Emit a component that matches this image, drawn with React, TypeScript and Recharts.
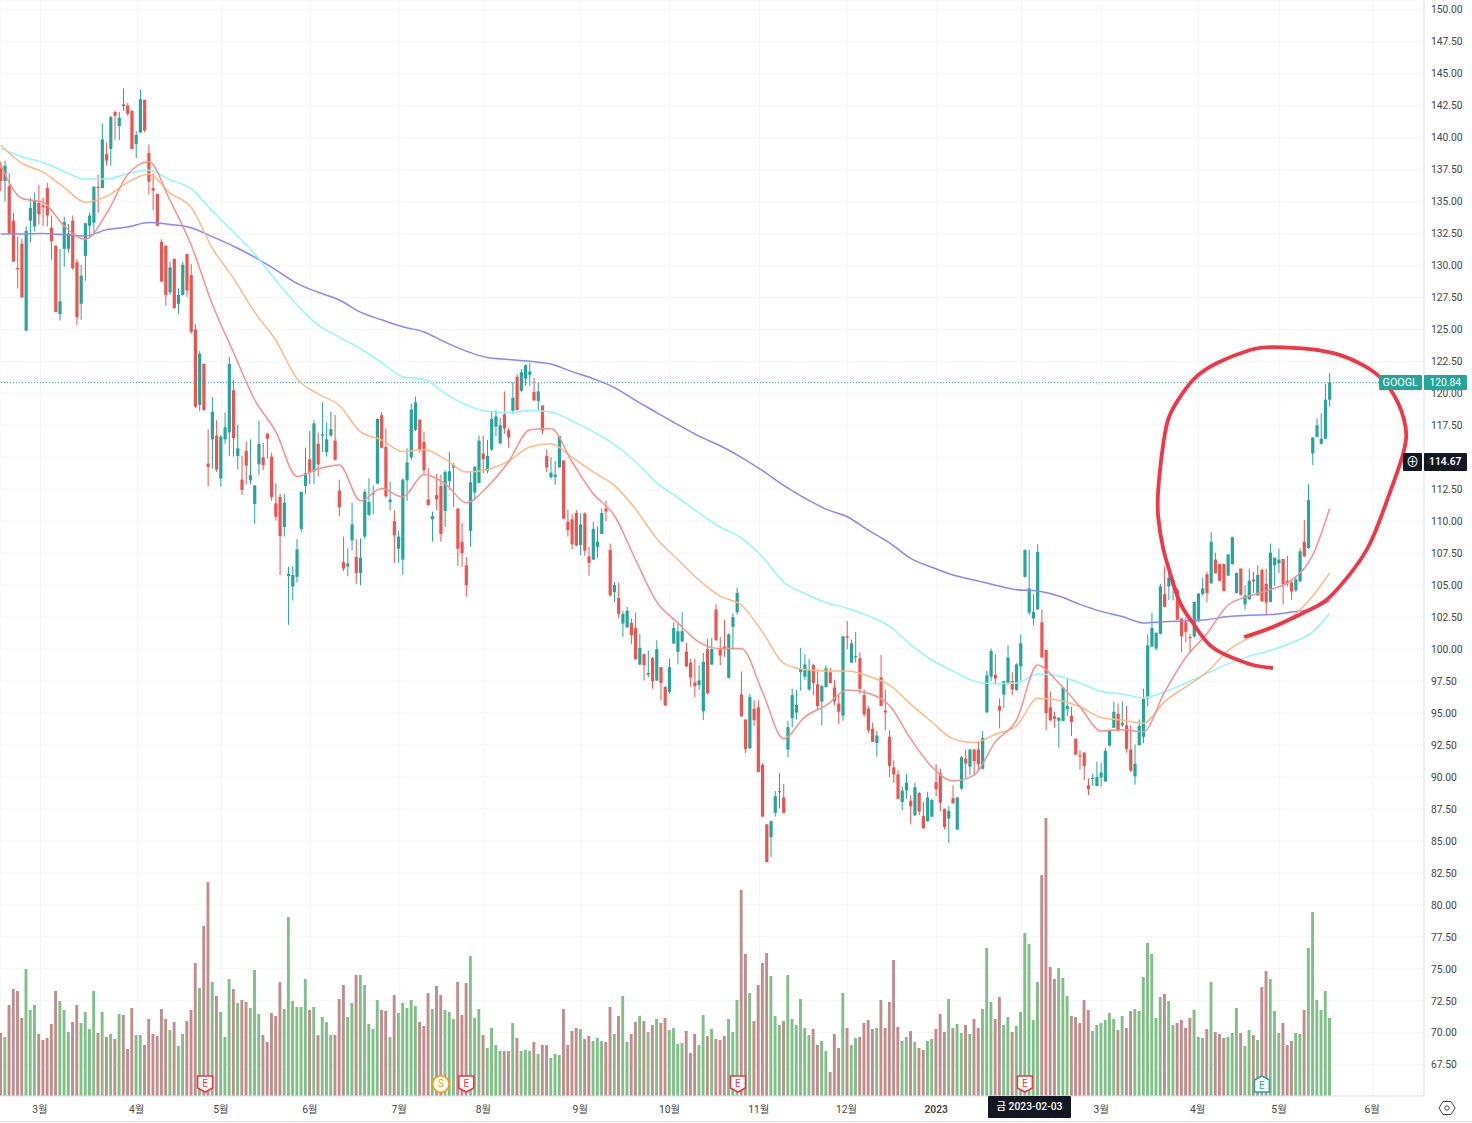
import React from "react";
import {
  ComposedChart, Bar, Line, Scatter, XAxis, YAxis, CartesianGrid, ReferenceLine, ReferenceDot,
} from "recharts";

const opens = [
137.6,136.6,136.2,133.5,129.8,131.7,124.9,133.5,133.05,134.9,
134.7,136.05,132.95,131.55,126.2,131.3,131.3,133.5,130.25,127,
130.75,133.1,133.35,136.15,136.05,138.7,139.1,142,140.9,142.6,
142.5,142.1,139.5,140.4,142.95,138.8,136.05,135.6,131.85,131.55,
127.9,130.5,127,127.7,130.9,129.25,125,119.1,122.3,114.5,
116.4,116.7,113.35,116.4,116.95,120.25,115.1,113.25,115.5,113.2,
111.35,114.45,115,116.85,115.05,111.4,111.9,109.55,105.7,104.9,
105.65,109.4,112.75,114.85,113.9,116.05,116.7,115.4,116.7,116.3,
112.4,106.8,106.45,108.5,107.2,105.95,108.8,110.5,112.1,112.95,
118.3,115.8,111.5,110,107.85,107,113.2,115,117.15,117.95,
116.2,111.7,110.15,112.05,112.75,110.8,113.15,114.2,111,108.4,
106.55,109.25,112.25,113,115.3,113.95,115.6,117.4,116.1,118.35,
117.1,118.65,121.3,120.2,121.15,121.45,120.1,119.4,119.05,115.1,
113.45,113.45,114.2,114.75,109.95,110.15,110.65,108.15,110.6,107.25,
107,108,109,111,107.75,104.45,104,102,101.7,102.05,
101.65,98.8,99.6,98,99.3,97.55,98.6,97.05,96.65,100.45,
99.8,100.6,99.8,98.95,97.4,97.2,95.15,100,98.8,103.1,
100,100.2,97.75,101.75,102.9,96.45,94.5,92.25,95.35,95.45,
90.95,86.3,85.3,87.2,88.8,88.4,92.15,94.6,95.05,98.2,
97.85,96.85,98.75,97.25,95.9,97.05,98.2,97,95.75,94.8,
101,98.95,99.35,99.3,96.4,95.35,93.75,92.65,97.8,95.2,
93.15,90.75,90.2,88.05,88.95,88.15,87,88.75,86.95,86.55,
86.9,89.6,90.3,87.5,86.75,88.35,85.9,89.1,91.45,90.8,
92.15,92.15,90.65,95.05,97.85,98,95.55,96.45,97.25,97.5,
96.8,98.65,105.65,102.85,102.4,103.1,102.1,99.95,95.45,94.75,
94.4,94.4,95.3,94.8,93,91.7,91.9,89.35,89.85,89.3,
89.95,89.65,92.45,93.85,94.95,94.05,94.05,92.15,90.05,92.5,
93.15,96.15,100.2,100.05,101.2,104.3,104.9,104.95,104.65,102.4,
102.1,100.95,101,102.3,104.3,105.85,105.15,107,106.65,106.65,
105.75,106.65,104.4,106.3,103.5,103.9,105.45,104.2,106.2,105.1,
103.7,106.55,106.7,107.05,105.35,105.2,104.6,105.3,108.4,107.9,
115.3,116.6,116.05,116.45,119.5,
];
const closes = [
136.6,137.8,132.5,130.3,129.7,127.5,132.7,134.5,135.1,134,
134.55,133.9,131.9,126.35,127.2,133.4,132.5,129.8,125.95,129.2,
133.3,133.9,136.15,136.05,139.85,138.2,141.6,141.7,141.55,142.45,
141.85,139.1,140.2,143,140.55,136.55,135.85,133.1,128.75,127.7,
129.85,126.65,127.7,130.05,128.05,124.8,118.95,123.1,118.7,114.25,
118.55,114.05,116.6,117.35,122.3,116.5,115.7,112.45,114.35,113.6,
112.8,116.05,114.4,116.45,111.9,110.35,108.85,111.45,105.9,105.8,
107.8,112.3,113.75,113.85,117.65,114.45,116.8,116.4,117.2,114.8,
111.1,106.3,106.7,109.75,105.95,107.15,112.3,111.5,112.2,118,
115.75,111.95,111.7,108.9,108.8,113.25,114.6,118.75,119.3,115.55,
114,111.25,110.4,111.7,109,113.85,113.9,114.4,107.85,107.5,
105,113.05,114.25,116.3,114.85,115.1,118,118.2,117.5,117.25,
116.55,119.65,118.7,121.65,122.2,121.7,119.45,120.15,117.1,114.2,
113.8,113.65,116.65,110.2,109.3,108.2,108.1,109.75,107.7,106.75,
109.4,108.4,110.65,110.75,104.2,105,102.75,102.75,103,101.1,
99.2,100.1,98.75,98.15,97.5,100,97.35,95.6,98.6,101.65,
101.4,101.4,98.65,97.8,97.1,97.55,99,96.55,100,100.7,
99.5,100,101.15,102.5,104.4,94.75,92.2,96.25,94.45,90.4,
86.9,83.35,86.55,88.5,88.9,87.2,93.9,96.4,95.65,98.45,
98.8,98.35,97.35,95.55,97.1,98.5,97.35,95.9,95.1,101,
100.9,100.45,99.45,96.9,94.9,93.65,92.75,93.25,95.55,95.05,
90.85,90.2,88.3,88.95,89.55,87.7,89.2,87.3,86,88.4,
88.2,89.05,88,86.1,87.35,87.95,88.4,91.55,91.05,92.15,
91.25,91,93.05,97.95,99.85,97.7,95.2,97.5,99.35,96.85,
98.8,100.45,107.75,104.75,102.9,107.6,99.35,95,94.45,94.55,
94.65,97,95.55,94.3,91.75,91.6,90.85,89.05,89.95,90,
90.35,92.05,93.65,95.1,93.65,94.25,92.2,90.5,91.05,94,
96.1,100.3,101.65,101.25,104.9,103.3,105.6,105.4,102.3,101,
101.35,100.85,103.7,104.35,104.75,104.4,108.4,105.95,105.35,104.55,
107.4,108.75,105.95,104.25,104.2,105.35,105.3,105.8,103.75,103.65,
107.55,107.15,107,105.1,105.15,104.5,105.45,107.65,107.25,111.65,
116.55,117.5,116.45,119.5,120.84,
];
const highs = [
138.1,138.2,137.2,134.1,132.25,132.1,133.05,135.3,135.7,136.3,
135.3,136.45,133.9,131.55,131.3,133.8,133.25,133.9,130.5,130.05,
133.3,134.15,136.2,137.1,141.1,139.6,141.7,142.1,142,143.85,
142.7,142.1,140.5,143.75,142.95,139.45,137.2,135.6,132.05,131.55,
130.3,130.55,128.2,130.3,130.9,130.1,125.4,123.3,122.35,117.2,
119.7,117.9,116.75,118.5,122.85,121.05,117.55,115.1,116.2,116.4,
112.8,117.85,116.15,116.85,115.35,112.95,112.15,112.1,106.45,106.5,
108.6,112.3,115.75,117.05,117.9,116.95,119.3,117.7,118.55,118.3,
113.25,108.8,107.9,111.45,108.6,108.65,112.5,113.35,112.8,118.05,
118.55,117.25,113.1,110.85,109.25,113.35,115.7,119.2,119.75,117.95,
117,114.15,110.75,113.7,113.65,114,115.4,114.55,111,109.85,
107.2,113.85,114.3,116.7,116.7,116.35,118.6,118.7,118.1,120.15,
117.3,120.9,121.5,121.9,122.25,122.4,121.2,120.85,119.05,115.6,
115,114.7,116.65,114.75,110.9,110.55,110.9,110.6,110.7,108,
109.95,109.6,111,111.6,108.25,105.25,105.2,103,103.3,102.4,
102.85,101.2,99.65,99.9,99.4,100.7,98.6,97.1,99.25,102.1,
102,102.9,100.5,99.25,99.25,98.75,99.7,100.8,100.9,103.5,
100.95,102.3,101.25,102.8,104.8,98.25,94.5,96.5,96,96,
91.1,86.3,86.6,88.9,90.3,89.45,94.4,96.9,96.8,100.1,
99.6,99.25,98.85,98.4,97.2,98.75,98.55,97.6,96.4,101,
102.2,100.75,101.35,99.75,96.85,95.55,94.25,93.6,99.55,96.85,
93.65,91.3,90.55,89.25,90.25,88.6,89.55,88.85,88.05,88.85,
88.3,91,90.65,87.55,87.7,89.35,88.45,91.65,92.15,92.2,
92.2,92.75,93.6,98.3,100.05,99.6,96.15,97.5,100.3,98.2,
98.9,101.15,107.8,107.75,104.3,108.2,103.1,99.95,96.7,95.1,
94.65,97.05,97.75,95.5,93,92.1,91.95,89.9,90.25,91.2,
91.1,92.3,93.7,95.9,95.75,95.9,95.55,94.05,92.55,94.5,
96.9,101.15,102.85,101.35,105.1,106.45,106.7,105.45,104.75,102.4,
102.5,101.2,103.7,104.35,105.6,106.05,109.15,107.55,106.7,106.7,
107.45,108.8,106,106.3,105,106.3,106.05,106.55,106.3,106.3,
108.25,107.15,107.85,107.05,107.3,105.4,105.7,107.9,110.1,112.9,
116.55,118.05,118.45,120.75,121.6,
];
const lows = [
135.8,135,132.5,130.3,128.2,127.5,124.9,131.8,132.65,133.2,
133.1,133.05,130.45,126.35,125.7,129.9,131,129.65,125.35,125.75,
128.8,132.25,132.5,134.1,136.05,137.8,137.8,139.8,139.8,142.1,
141.7,139.1,138.4,140.35,140.4,135.55,134.3,133.05,128.7,126.85,
127.7,126.65,126.2,127.65,127.55,124.65,118.85,118.6,118.6,112.75,
114.1,113.85,112.7,116.05,115.1,115.05,114.05,112.05,112.9,112.9,
109.8,113.6,114,114.9,111.6,110.05,105.8,108.8,101.9,103.8,
105.25,109.15,112.1,112.9,112.9,113.5,115.4,115.05,116.6,114.75,
110.4,106.1,105.7,107.7,105.1,105,108.6,110.4,110.55,112.9,
115.7,111.85,110.85,106.75,106.75,105.8,111.6,114.8,117.05,115.35,
113.7,111.25,108.4,110.85,108.4,109.55,112.45,111.1,106.5,106.45,
104.1,108,111.65,112.95,113.75,113.75,115.5,116.65,116,116.85,
115.75,118.4,118.65,120.1,120.6,120.6,119.4,118.7,116.8,113.85,
113.3,112.85,114.2,110.2,108.8,107.8,108.05,107.35,107.3,105.75,
106.95,107.15,109,110,104.1,103.65,102.4,100.95,101.65,100.4,
99.2,98.75,97.55,97.8,96.9,97.5,96,95.55,96.5,100.4,
98.8,100.55,98.6,97.05,96.25,96.8,94.45,96.45,98.75,100.65,
98.75,99.4,97.7,99.95,102.7,94.7,91.85,92.2,94,90.4,
86.9,83.35,83.75,86.9,87.55,87.2,91.55,93.9,94.5,96.75,
97.6,96.75,96.4,95.3,94.05,97,97.3,95.6,94.15,94.4,
100,98.9,98.95,96.5,94.7,93.45,92.75,91.6,95.55,93.65,
90,89.55,88.25,87.4,88.3,86.3,86.95,87,85.95,86.5,
86.85,88.5,87.3,85.9,84.85,87.9,85.85,89,89.95,90.15,
90.1,90.6,90.6,95.05,97.5,97.25,93.8,95.4,97.25,96.4,
96.75,97.55,105.6,102.65,101.85,103.1,99.35,93.65,94.35,93.85,
92.3,94.35,94.75,93.2,91.7,90.6,89.75,88.6,89.3,89.3,
89.25,89.65,92.4,93.85,93.6,93.9,91.9,90.4,89.4,92.45,
92.65,95.55,100.15,99.9,101.15,103.25,103.85,103.8,102.3,99.75,
100.55,99.75,100.9,102.1,104.2,103.65,105.1,105.9,105.3,104.5,
105.7,106.6,104.35,104.2,103.1,103.85,104.4,104.15,103.7,102.65,
103.65,104.95,105.95,103.5,104.9,103.85,104.45,105.25,107.2,107.85,
114.4,116.55,116,116.4,118.95,
];
const volumes = [
63,59,91,107,105,78,127,86,91,62,
56,58,72,105,95,86,64,74,91,73,
84,67,105,63,84,59,62,57,82,81,
47,88,61,61,51,77,62,60,87,77,
66,74,50,62,75,86,133,108,170,214,
114,100,84,59,117,107,93,96,94,88,
126,82,61,54,83,80,114,87,179,95,
89,89,117,86,89,61,79,74,61,61,
97,111,79,93,121,121,111,72,67,96,
86,85,59,101,83,93,88,96,90,74,
70,103,87,110,101,86,84,77,114,81,
113,140,78,87,61,48,68,51,45,45,
45,73,58,45,46,45,54,42,51,51,
38,42,41,87,51,65,68,67,57,60,
55,58,55,54,89,62,80,100,54,62,
74,80,75,64,71,77,73,78,66,68,
52,53,65,43,62,51,81,60,67,57,
56,60,77,64,96,206,142,103,75,111,
133,143,120,80,71,75,121,77,71,97,
68,61,67,51,55,45,24,62,48,103,
68,51,58,59,73,76,67,68,96,68,
94,136,69,55,59,65,54,48,46,55,
57,67,82,64,97,68,72,63,71,62,
77,68,87,148,94,77,99,71,79,64,
70,84,163,152,76,114,221,278,129,117,
128,118,100,80,79,73,96,86,65,71,
73,76,83,77,66,80,68,85,87,85,
119,153,142,78,99,102,95,71,73,76,
68,78,86,59,58,67,114,64,62,58,
59,63,88,63,50,66,61,56,109,125,
117,85,63,73,51,55,63,62,86,148,
184,96,86,105,78,
];

// Moving averages at every 5th session, plus the last session.
const maRed = [137.86,135.25,134.94,133.09,132.05,134.05,137.1,138.1,135.1,131.6,126.97,123.2,119.5,117,113.5,114.1,114.4,111.6,112.55,111.9,113.65,112.95,111.45,112.7,114.65,117.15,117.25,114.65,112.15,110.45,107,103.7,102.05,100.55,100.05,100.05,96.65,93,94.7,95.6,96.8,96.55,95.6,93,90.8,89.7,90.15,92.75,94.45,98.75,97.35,95.5,93.6,93.7,93.55,96.65,99.35,101.2,103.45,104.15,104.65,105.4,107.35,111];
const maOrange = [139.4,138,137.3,136.1,134.95,135.4,136.5,137.15,135.65,134.55,131.35,129,126.35,124.15,121.15,119.95,119.05,117,116.35,115.45,115.6,114.85,113.85,114.05,114.7,115.8,116.05,115,113.85,112.8,110.95,108.65,107,105.4,104.15,103.45,101.35,98.9,98.4,98.3,98.3,97.9,97.2,95.7,94.3,93,92.7,93.35,94,96.15,96,95.5,94.65,94.45,94.2,95.9,97.05,98.2,99.9,100.9,101.75,102.5,104.15,105.95];
const maCyan = [139.15,138.5,138.05,137.35,136.75,136.75,137.2,137.45,136.7,136,134.25,132.6,130.9,128.85,126.9,125.35,124.4,123.5,122.4,121.3,121.1,120,119.1,118.6,118.5,118.65,118.55,117.85,117,116,114.65,113,111.85,110.65,109.55,108.7,107.2,105.25,104.35,103.65,103.2,102.6,101.8,100.35,99.15,98.3,97.5,97.3,97.35,98.05,97.9,97.35,96.7,96.5,96.2,96.65,97.35,98.1,98.85,99.45,99.9,100.5,101.35,102.8];
const maBlue = [132.45,132.45,132.5,132.4,132.3,132.8,133,133.35,133.2,132.95,132.25,131.5,130.65,129.65,128.6,127.9,127.3,126.35,125.75,125.2,124.8,124,123.3,122.8,122.65,122.5,122.3,121.7,121.15,120.45,119.45,118.5,117.55,116.65,115.9,115,113.95,112.8,111.8,110.95,110.35,109.3,108.3,107.1,106.4,105.8,105.4,105,104.65,104.55,104.15,103.5,102.95,102.55,102.05,102.15,102.2,102.3,102.55,102.65,102.7,102.9,103.15,103.8];

const priceTicks = [67.5,70,72.5,75,77.5,80,82.5,85,87.5,90,92.5,95,97.5,100,102.5,105,107.5,110,112.5,115,117.5,120,122.5,125,127.5,130,132.5,135,137.5,140,142.5,145,147.5,150];
const monthTicks = [9.4,32.3,52.2,73.2,94.3,114.2,137.1,158.2,179.3,200,221.2,241.2,260.2,283,302.2,324.2];
const monthLabels = ["3월","4월","5월","6월","7월","8월","9월","10월","11월","12월","2023","","3월","4월","5월","6월"];

// Hand-drawn annotation, as session index and price.
const loopIdx = [293.8,300.6,308.7,313.6,318.8,323.6,327.6,330.7,332.1,331.6,330.2,326.6,321.9,316.5,309.4,300.6,295.2,287.4,281.7,278.2,275.8,274.4,273.5,273.5,274.6,276.3,278.7,281.7,285.7,291.2,295.9,300.6];
const loopPrice = [100.95,101.73,102.98,103.95,105.87,108.3,111.66,114.55,116.58,117.91,119.24,121.04,122.21,122.99,123.46,123.62,123.39,122.37,121.04,119.48,117.91,115.33,112.44,110.33,107.98,105.95,103.6,102.04,100.32,99.3,98.76,98.52];

const earnings = [48.3, 110, 174.2, 242];
const earningsUp = [298];
const splits = [104];

const UP = "#26a69a", DOWN = "#ef5350";
const FONT = "Roboto, 'Noto Sans CJK KR', sans-serif";

const data = opens.map((o, i) => ({
  idx: i,
  open: o, close: closes[i], high: highs[i], low: lows[i], volume: volumes[i],
}));
const maPoints = maRed.map((red, k) => ({
  idx: k === 63 ? 314 : k * 5,
  red, orange: maOrange[k], cyan: maCyan[k], blue: maBlue[k],
}));
const loop = loopIdx.map((idx, i) => ({ idx, price: loopPrice[i] }));

function Candle(props: any) {
  const { x, y, width, height, payload } = props;
  const top = Math.min(y, y + height), h = Math.abs(height);
  const k = h / Math.max(payload.high - payload.low, 0.01);
  const up = payload.close >= payload.open;
  const c = up ? UP : DOWN;
  const bTop = top + (payload.high - Math.max(payload.open, payload.close)) * k;
  const bH = Math.max(Math.abs(payload.open - payload.close) * k, 1);
  const cx = x + width / 2;
  return (
    <g>
      <line x1={cx} x2={cx} y1={top} y2={top + h} stroke={c} strokeWidth={1} />
      <rect x={cx - 1.6} y={bTop} width={3.2} height={bH} fill={c} />
    </g>
  );
}

function VolumeBar(props: any) {
  const { x, y, width, height, payload } = props;
  const cx = x + width / 2;
  return <rect x={cx - 1.45} y={y} width={2.9} height={height} fill={payload.close >= payload.open ? "#80bf88" : "#c08d8d"} />;
}

function Shield(props: any) {
  const { cx, cy } = props;
  return (
    <g>
      <path d={`M${cx - 7.5} ${cy - 8}H${cx + 7.5}V${cy + 4}L${cx} ${cy + 8}L${cx - 7.5} ${cy + 4}Z`} fill="#fff" stroke="#f23645" strokeWidth={1.6} />
      <text x={cx} y={cy + 3.5} textAnchor="middle" fontSize={10} fill="#f23645" fontFamily={FONT}>E</text>
    </g>
  );
}
function House(props: any) {
  const { cx, cy } = props;
  return (
    <g>
      <path d={`M${cx} ${cy - 8}L${cx + 7.5} ${cy - 4}V${cy + 8}H${cx - 7.5}V${cy - 4}Z`} fill="#fff" stroke={UP} strokeWidth={1.6} />
      <text x={cx} y={cy + 5} textAnchor="middle" fontSize={10} fill={UP} fontFamily={FONT}>E</text>
    </g>
  );
}
function Split(props: any) {
  const { cx, cy } = props;
  return (
    <g>
      <circle cx={cx} cy={cy} r={8.3} fill="#fff" stroke="#ff9800" strokeWidth={1.6} />
      <text x={cx} y={cy + 3.5} textAnchor="middle" fontSize={10} fill="#ff9800" fontFamily={FONT}>S</text>
    </g>
  );
}

function MonthTick(props: any) {
  const { x, y, index } = props;
  const label = monthLabels[index];
  return (
    <text x={x - 0.7} y={y + 9} textAnchor="middle" fontSize={10.3} fontFamily={FONT} fill="#444" fontWeight={label === "2023" ? 600 : 400}>
      {label}
    </text>
  );
}

const tag = (left: number, top: number, w: number, h: number, bg: string, text: React.ReactNode, extra: any = {}) => (
  <div style={{
    position: "absolute", left, top, width: w, height: h, background: bg, color: "#fff",
    fontFamily: FONT, fontSize: 10.3, lineHeight: `${h}px`, textAlign: "center", borderRadius: 1, ...extra,
  }}>{text}</div>
);

export default function App() {
  return (
    <div style={{ position: "absolute", left: 0, top: 0, width: 1472, height: 1123, background: "#fff", overflow: "hidden" }}>
      <ComposedChart width={1472} height={1123} data={data} margin={{ top: 0, right: 0, bottom: 0, left: 0 }}>
        <CartesianGrid yAxisId="price" stroke="#f3f4f6" strokeWidth={1} />
        <XAxis
          dataKey="idx" type="number" domain={[-0.165, 336.3]} ticks={monthTicks} interval={0} allowDataOverflow
          height={27} axisLine={{ stroke: "#e0e3eb" }} tickLine={false} tick={<MonthTick />}
        />
        <YAxis
          yAxisId="price" orientation="right" width={48} domain={[65.06, 150.755]} ticks={priceTicks} interval={0} allowDataOverflow
          axisLine={{ stroke: "#e0e3eb" }} tickLine={false}
          tick={{ fontSize: 10.3, fontFamily: FONT, fill: "#444" }} tickMargin={1}
          tickFormatter={(v: number) => (v === 115 ? "" : v.toFixed(2))}
        />
        <YAxis yAxisId="vol" hide domain={[0, 1096]} allowDataOverflow />
        <Bar yAxisId="vol" dataKey="volume" barSize={3} shape={<VolumeBar />} activeBar={false} isAnimationActive={false} />
        <ReferenceLine yAxisId="price" y={120.84} stroke={UP} strokeDasharray="1 2" strokeWidth={1} />
        <Line yAxisId="price" data={maPoints} dataKey="blue" type="monotone" dot={false} activeDot={false} stroke="#8b87f6" strokeWidth={1.5} isAnimationActive={false} />
        <Line yAxisId="price" data={maPoints} dataKey="cyan" type="monotone" dot={false} activeDot={false} stroke="#8ef7f7" strokeWidth={1.5} isAnimationActive={false} />
        <Line yAxisId="price" data={maPoints} dataKey="orange" type="monotone" dot={false} activeDot={false} stroke="#ffb985" strokeWidth={1.5} isAnimationActive={false} />
        <Line yAxisId="price" data={maPoints} dataKey="red" type="monotone" dot={false} activeDot={false} stroke="#fb8f8f" strokeWidth={1.5} isAnimationActive={false} />
        <Bar yAxisId="price" dataKey={(d: any) => [d.low, d.high]} barSize={3} shape={<Candle />} activeBar={false} isAnimationActive={false} />
        <Scatter yAxisId="price" data={loop} dataKey="price" line={{ stroke: "#f23645", strokeWidth: 3.8 }} lineType="joint" lineJointType="natural" shape={() => null} isAnimationActive={false} />
        {earnings.map((x) => <ReferenceDot key={x} yAxisId="price" x={x} y={66} shape={<Shield />} />)}
        {earningsUp.map((x) => <ReferenceDot key={x} yAxisId="price" x={x} y={66} shape={<House />} />)}
        {splits.map((x) => <ReferenceDot key={x} yAxisId="price" x={x} y={66} shape={<Split />} />)}
      </ComposedChart>

      {tag(1379, 375, 42.5, 15, UP, "GOOGL", { fontSize: 10.8 })}
      {tag(1423.5, 375, 43.5, 15, UP, "120.84")}
      {tag(1403, 453, 19, 18, "#131722", "⊕", { fontSize: 13 })}
      {tag(1423.5, 453, 43.5, 18, "#131722", "114.67", { fontWeight: 600 })}
      {tag(988, 1096, 83, 22, "#131722", "금 2023-02-03", { fontWeight: 500 })}
      <div style={{ position: "absolute", left: 0, top: 1121, width: 1472, height: 1, background: "#e0e3eb" }} />
      <svg style={{ position: "absolute", left: 1438, top: 1100 }} width={18} height={16}>
        <path d="M1 8L5 1.5H13L17 8L13 14.5H5Z" fill="none" stroke="#444" strokeWidth={1} />
        <circle cx={9} cy={8} r={2.2} fill="none" stroke="#444" strokeWidth={1} />
      </svg>
    </div>
  );
}
